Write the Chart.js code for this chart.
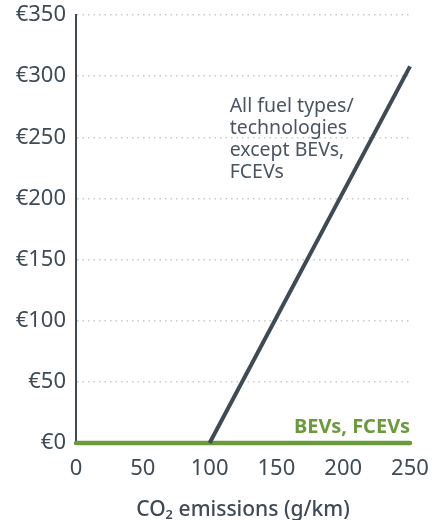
<!DOCTYPE html>
<html>
<head>
<meta charset="utf-8">
<script src="https://cdn.jsdelivr.net/npm/chart.js@4"></script>
<style>
  body { margin: 0; background: #fff; }
  canvas { display: block; }
</style>
</head>
<body>
<canvas id="chartId" width="432" height="520"></canvas>
<script>
// data
const allFuelX = [100, 250];
const allFuelY = [0, 308];
const bevX = [0, 250];
const bevY = [0, 0];
const yTicks = [0, 50, 100, 150, 200, 250, 300, 350];
const xTicks = [0, 50, 100, 150, 200, 250];
const allFuelLabel = ['All fuel types/', 'technologies', 'except BEVs,', 'FCEVs'];
const bevLabel = 'BEVs, FCEVs';

const dark = '#3e4a54';
const green = '#6a9a3b';
const font = '"Noto Sans", "Open Sans", sans-serif';

const toPoints = (xs, ys) => xs.map((x, i) => ({ x: x, y: ys[i] }));

const labelPlugin = {
  id: 'lineLabels',
  afterDatasetsDraw(chart) {
    const ctx = chart.ctx;
    const xs = chart.scales.x;
    const ys = chart.scales.y;
    ctx.save();
    ctx.textBaseline = 'middle';
    ctx.textAlign = 'left';
    ctx.fillStyle = '#4a5560';
    ctx.font = '19.5px ' + font;
    let x0 = xs.getPixelForValue(115);
    let y0 = ys.getPixelForValue(275);
    allFuelLabel.forEach((t, i) => ctx.fillText(t, x0, y0 + i * 22));
    ctx.textAlign = 'right';
    ctx.fillStyle = green;
    ctx.font = 'bold 20px ' + font;
    ctx.fillText(bevLabel, xs.getPixelForValue(250), ys.getPixelForValue(13));
    ctx.restore();
  }
};

new Chart(document.getElementById('chartId').getContext('2d'), {
  type: 'line',
  data: {
    datasets: [{
      data: toPoints(allFuelX, allFuelY),
      borderColor: dark,
      borderWidth: 4,
      pointRadius: 0,
      borderCapStyle: 'butt',
      clip: 6,
    }, {
      data: toPoints(bevX, bevY),
      borderColor: green,
      borderWidth: 4.5,
      pointRadius: 0,
      borderCapStyle: 'round',
      clip: 6,
    }],
  },
  options: {
    responsive: false,
    animation: false,
    layout: { padding: { top: 15, right: 22, bottom: 0, left: 0 } },
    plugins: {
      legend: { display: false },
      tooltip: { enabled: false },
    },
    scales: {
      x: {
        type: 'linear',
        min: 0,
        max: 250,
        afterBuildTicks: s => { s.ticks = xTicks.map(v => ({ value: v })); },
        afterFit: s => { s.height = 77; s.paddingLeft = 0; s.paddingRight = 0; },
        ticks: { color: dark, font: { family: font, size: 22 }, padding: 13, maxRotation: 0 },
        grid: { display: false, drawTicks: false },
        border: { display: false },
        title: {
          display: true,
          text: 'CO₂ emissions (g/km)',
          color: dark,
          font: { family: font, size: 21, weight: '500' },
          padding: { top: 4, bottom: -3 },
        },
      },
      y: {
        min: 0,
        max: 350,
        afterBuildTicks: s => { s.ticks = yTicks.map(v => ({ value: v })); },
        afterFit: s => { s.width = 76; s.paddingTop = 0; s.paddingBottom = 0; },
        ticks: {
          color: dark,
          font: { family: font, size: 22 },
          padding: 10,
          callback: v => '€' + v,
        },
        grid: {
          color: '#c8c8c8',
          lineWidth: 1.5,
          drawTicks: false,
        },
        border: { display: true, color: dark, width: 2, dash: [1.5, 4] },
      },
    },
  },
  plugins: [labelPlugin],
});
</script>
</body>
</html>
